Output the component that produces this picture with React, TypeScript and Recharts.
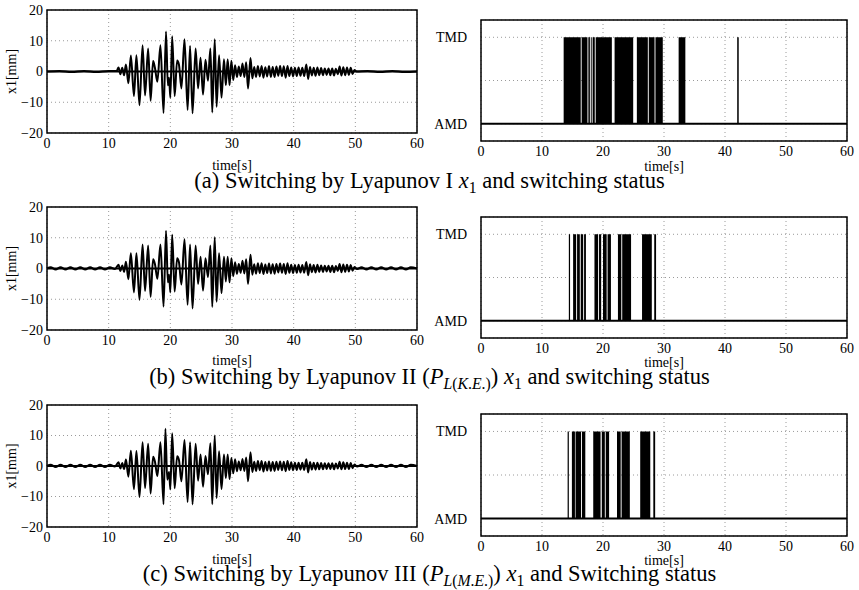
import React from 'react'
import {
  ComposedChart, Line, Area, XAxis, YAxis, CartesianGrid, ReferenceLine, ReferenceArea
} from 'recharts'

const timeTicks = [0, 10, 20, 30, 40, 50, 60]
const x1Ticks = [-20, -10, 0, 10, 20]
const statusTicks = [0, 0.5, 1]
const statusLabels: Record<number, string> = { 0: 'AMD', 0.5: '', 1: 'TMD' }

// x1[mm] response, [time, value] at the peaks and troughs
const x1A: [number, number][] = [
  [0, 0], [2, 0.2], [4, -0.2], [6, 0.2], [8, -0.2], [10, 0.2], [11.3, 0.2], [11.6, 1.3], [11.9, -0.9],
  [12.2, 1.2], [12.5, -1.2], [12.8, 2.3], [13.2, -3.8], [13.6, 5.2], [14.1, -8], [14.5, 5.3], [15.0, -11],
  [15.5, 8.5], [15.9, -7.8], [16.4, 7.5], [16.8, -9.5], [17.2, 3.4], [17.5, 1.2], [17.9, -3.3], [18.4, 8.5],
  [18.9, -13.5], [19.3, 13], [19.6, -4.5], [19.8, -2], [20.0, -8.5], [20.3, 11.5], [20.7, -8], [21.1, 3.6],
  [21.4, 2.2], [21.8, -5.5], [22.3, 10.5], [22.8, -12.5], [23.2, 8.3], [23.6, -13.6], [24.1, 7.5], [24.5, -5.5],
  [24.9, 4.5], [25.3, -7.5], [25.7, 3.8], [26.1, -3], [26.5, 7.5], [26.8, -13.3], [27.2, 10.5], [27.5, -11.5],
  [27.9, 5.3], [28.3, -8.5], [28.7, 4], [29.0, -4.5], [29.3, 4], [29.6, -4.5], [29.9, 3.5], [30.2, -2.8],
  [30.5, 2], [30.8, -1.8], [31.1, 1.6], [31.4, -1.5], [31.7, 2.6], [32.0, -1.8], [32.3, 3], [32.6, -5.5],
  [33.0, 4.4], [33.3, -2.2], [33.6, 1.5], [33.9, -1.8], [34.2, 1.8], [34.5, -1.6], [34.8, 1.8], [35.1, -2],
  [35.4, 1.4], [35.7, -1.6], [36.0, 1.8], [36.3, -1.8], [36.6, 1.5], [36.9, -1.8], [37.2, 1.6], [37.5, -1.4],
  [37.8, 1.8], [38.1, -1.5], [38.4, 1.7], [38.7, -2], [39.0, 1.8], [39.3, -1.5], [39.6, 1.3], [39.9, -1.6],
  [40.2, 1.2], [40.5, -1.5], [40.8, 1.3], [41.1, -1.4], [41.4, 1.2], [41.7, -1.5], [42.05, 2.3], [42.35, -2.4],
  [42.65, 1.5], [42.95, -1.3], [43.25, 1.2], [43.55, -1.4], [43.85, 1.3], [44.15, -1.2], [44.45, 1.1],
  [44.75, -1.2], [45.05, 1], [45.35, -1.1], [45.65, 1], [45.95, -1.2], [46.25, 1], [46.55, -1.3], [46.85, 0.9],
  [47.15, -0.9], [47.45, 1.6], [47.75, -1.3], [48.05, 1.4], [48.35, -1.2], [48.65, 1.3], [48.95, -1.1],
  [49.25, 1.2], [49.55, -0.8], [49.85, 0.5], [50.2, 0], [52, 0.2], [54, -0.2], [56, 0.2], [58, -0.2], [60, 0]
]

const x1B: [number, number][] = [
  [0, 0], [0.6, 0.4], [1.4, -0.3], [2.2, 0.4], [3.0, -0.3], [3.8, 0.4], [4.6, -0.3], [5.4, 0.4], [6.2, -0.3],
  [7.0, 0.4], [7.8, -0.3], [8.6, 0.4], [9.4, -0.3], [10.2, 0.4], [11.0, -0.2], [11.6, 1.2], [11.9, -0.8],
  [12.2, 1], [12.5, -1.1], [12.8, 2.2], [13.2, -3.5], [13.6, 5], [14.1, -7.8], [14.5, 5], [15.0, -10.2],
  [15.5, 7.8], [15.9, -7.3], [16.4, 7.5], [16.8, -9.2], [17.2, 3], [17.5, 1.5], [17.9, -3.3], [18.4, 7.8],
  [18.9, -12.4], [19.3, 12.3], [19.6, -4.5], [19.8, -2], [20.0, -7.8], [20.3, 11], [20.7, -7.5], [21.1, 3.3],
  [21.4, 2], [21.8, -5.2], [22.3, 9.5], [22.8, -11.8], [23.2, 7.8], [23.6, -13], [24.1, 7.5], [24.5, -5],
  [24.9, 3.8], [25.3, -7.2], [25.7, 3.3], [26.1, -2.8], [26.5, 7.5], [26.8, -12.5], [27.2, 10.2], [27.5, -10.8],
  [27.9, 5], [28.3, -8], [28.7, 3.8], [29.0, -4.2], [29.3, 3.8], [29.6, -4.5], [29.9, 3.3], [30.2, -2.5],
  [30.5, 2], [30.8, -1.7], [31.1, 1.5], [31.4, -1.4], [31.7, 2.5], [32.0, -1.6], [32.3, 3], [32.6, -5],
  [33.0, 4.5], [33.3, -2], [33.6, 1.4], [33.9, -1.7], [34.2, 1.7], [34.5, -1.5], [34.8, 1.7], [35.1, -1.8],
  [35.4, 1.3], [35.7, -1.5], [36.0, 1.6], [36.3, -1.6], [36.6, 1.4], [36.9, -1.7], [37.2, 1.5], [37.5, -1.3],
  [37.8, 1.6], [38.1, -1.4], [38.4, 1.5], [38.7, -1.8], [39.0, 1.7], [39.3, -1.4], [39.6, 1.2], [39.9, -1.5],
  [40.2, 1.1], [40.5, -1.4], [40.8, 1.2], [41.1, -1.3], [41.4, 1.1], [41.7, -1.4], [42.05, 2.1], [42.35, -2.2],
  [42.65, 1.4], [42.95, -1.2], [43.25, 1.1], [43.55, -1.3], [43.85, 1.2], [44.15, -1.1], [44.45, 1],
  [44.75, -1.1], [45.05, 0.9], [45.35, -1], [45.65, 0.9], [45.95, -1.1], [46.25, 0.9], [46.55, -1.2],
  [46.85, 0.8], [47.15, -0.8], [47.45, 1.5], [47.75, -1.2], [48.05, 1.3], [48.35, -1.1], [48.65, 1.2],
  [48.95, -1], [49.25, 1.1], [49.55, -0.7], [49.85, 0.5], [50.3, -0.2], [51.0, 0.4], [51.8, -0.3], [52.6, 0.4],
  [53.4, -0.3], [54.2, 0.4], [55.0, -0.3], [55.8, 0.4], [56.6, -0.3], [57.4, 0.4], [58.2, -0.3], [59.0, 0.4],
  [60, 0]
]

const x1C: [number, number][] = [
  [0, 0], [0.6, 0.4], [1.4, -0.3], [2.2, 0.4], [3.0, -0.3], [3.8, 0.4], [4.6, -0.3], [5.4, 0.4], [6.2, -0.3],
  [7.0, 0.4], [7.8, -0.3], [8.6, 0.4], [9.4, -0.3], [10.2, 0.4], [11.0, -0.2], [11.6, 1.2], [11.9, -0.8],
  [12.2, 1], [12.5, -1], [12.8, 2.1], [13.2, -3.5], [13.6, 5], [14.1, -7.6], [14.5, 4.9], [15.0, -10.2],
  [15.5, 7.8], [15.9, -7.2], [16.4, 7.3], [16.8, -9], [17.2, 3], [17.5, 1.5], [17.9, -3.3], [18.4, 7.8],
  [18.9, -12.5], [19.2, 12.2], [19.5, -4.5], [19.8, -2], [20.0, -7.7], [20.3, 10.7], [20.7, -7.3], [21.1, 3.2],
  [21.4, 2], [21.8, -5], [22.3, 8.5], [22.8, -11.8], [23.2, 7.8], [23.6, -12.6], [24.1, 7.3], [24.5, -4.8],
  [24.9, 3.8], [25.3, -6.8], [25.7, 3.3], [26.1, -2.7], [26.5, 7.5], [26.8, -12.5], [27.2, 10], [27.5, -10.5],
  [27.9, 4.8], [28.3, -7.5], [28.7, 3.8], [29.0, -4], [29.3, 3.8], [29.6, -4.3], [29.9, 2.6], [30.2, -2.4],
  [30.5, 2.2], [30.8, -1.7], [31.1, 1.5], [31.4, -1.4], [31.7, 2.3], [32.0, -1.6], [32.3, 2.8], [32.6, -5],
  [33.0, 4.5], [33.3, -2], [33.6, 1.4], [33.9, -1.6], [34.2, 1.6], [34.5, -1.4], [34.8, 1.6], [35.1, -1.8],
  [35.4, 1.3], [35.7, -1.5], [36.0, 1.5], [36.3, -1.6], [36.6, 1.3], [36.9, -1.6], [37.2, 1.4], [37.5, -1.3],
  [37.8, 1.5], [38.1, -1.4], [38.4, 1.4], [38.7, -1.7], [39.0, 1.6], [39.3, -1.3], [39.6, 1.2], [39.9, -1.4],
  [40.2, 1.1], [40.5, -1.3], [40.8, 1.1], [41.1, -1.2], [41.4, 1.1], [41.7, -1.3], [42.05, 2.2], [42.35, -2.1],
  [42.65, 1.3], [42.95, -1.2], [43.25, 1.1], [43.55, -1.2], [43.85, 1.1], [44.15, -1.1], [44.45, 1],
  [44.75, -1.1], [45.05, 0.9], [45.35, -1], [45.65, 0.9], [45.95, -1], [46.25, 0.9], [46.55, -1.1],
  [46.85, 0.8], [47.15, -0.8], [47.45, 1.4], [47.75, -1.1], [48.05, 1.2], [48.35, -1], [48.65, 1.1],
  [48.95, -1], [49.25, 1], [49.55, -0.7], [49.85, 0.5], [50.3, -0.2], [51.0, 0.4], [51.8, -0.3], [52.6, 0.4],
  [53.4, -0.3], [54.2, 0.4], [55.0, -0.3], [55.8, 0.4], [56.6, -0.3], [57.4, 0.4], [58.2, -0.3], [59.0, 0.4],
  [60, 0]
]

// TMD-on intervals [start, end] in seconds; AMD otherwise
const tmdA: [number, number][] = [
  [13.55, 16.35], [16.5, 17.45], [17.6, 17.85], [18.0, 18.15], [18.3, 18.65], [18.8, 21.45],
  [21.9, 24.95], [25.55, 27.35], [27.5, 28.45], [28.6, 29.8], [32.4, 33.5], [42.0, 42.25]
]
const tmdB: [number, number][] = [
  [14.4, 14.6], [15.1, 15.6], [15.75, 16.2], [16.35, 16.75], [16.9, 17.2], [18.6, 19.2], [19.35, 19.7],
  [20.0, 20.6], [20.75, 21.3], [22.45, 23.0], [23.15, 24.6], [26.4, 28.0], [28.4, 28.7]
]
const tmdC: [number, number][] = [
  [14.2, 14.4], [14.9, 15.4], [15.5, 16.4], [16.55, 17.1], [18.4, 19.6], [19.8, 20.3], [20.45, 21.0],
  [22.3, 22.9], [23.05, 24.4], [26.1, 27.75], [28.25, 28.55]
]

const FONT = '"Liberation Serif", "Times New Roman", serif'
const tickStyle = { fontSize: 14, fill: '#000', fontFamily: FONT }
const fmtMinus = (v: number) => (v < 0 ? '\u2212' + Math.abs(v) : String(v))

function toRows(pts: [number, number][]) {
  return pts.map(([t, v]) => ({ t, v }))
}

function toSteps(intervals: [number, number][]) {
  const rows = [{ t: 0, s: 0 }]
  intervals.forEach(([a, b]) => {
    rows.push({ t: a, s: 1 }, { t: b, s: 0 })
  })
  rows.push({ t: 60, s: 0 })
  return rows
}

const TOP_M = 10
const BOT_M = 5

function SignalPanel({ data, plotTop, plotH, xh }: { data: [number, number][]; plotTop: number; plotH: number; xh: number }) {
  return (
    <div style={{ position: 'absolute', left: 0, top: plotTop - TOP_M }}>
      <ComposedChart width={430} height={TOP_M + plotH + xh + BOT_M} data={toRows(data)}
        margin={{ top: TOP_M, right: 13, left: 0, bottom: BOT_M }}>
        <CartesianGrid stroke="#9a9a9a" strokeDasharray="1 3" />
        <XAxis dataKey="t" type="number" domain={[0, 60]} ticks={timeTicks} height={xh}
          tickLine={false} axisLine={false} tick={tickStyle} tickSize={3} tickMargin={2}
          label={{ value: 'time[s]', position: 'insideBottom', offset: 0, fill: '#000', fontSize: 14, fontFamily: FONT }} />
        <YAxis type="number" domain={[-20, 20]} ticks={x1Ticks} width={47} tickFormatter={fmtMinus}
          tickLine={false} axisLine={false} tick={tickStyle} tickSize={3} tickMargin={1}
          label={{ value: 'x1[mm]', angle: -90, position: 'insideLeft', offset: 11, fill: '#000', fontSize: 14, fontFamily: FONT, style: { textAnchor: 'middle' } }} />
        <ReferenceLine y={0} stroke="#000" strokeWidth={2} />
        <Line dataKey="v" type="monotone" stroke="#000" strokeWidth={2} dot={false} isAnimationActive={false} />
        <ReferenceArea x1={0} x2={60} y1={-20} y2={20} fill="none" stroke="#000" strokeWidth={1.5} />
      </ComposedChart>
    </div>
  )
}

function StatusPanel({ intervals, plotTop, plotH, xh }: { intervals: [number, number][]; plotTop: number; plotH: number; xh: number }) {
  return (
    <div style={{ position: 'absolute', left: 430, top: plotTop - TOP_M }}>
      <ComposedChart width={429} height={TOP_M + plotH + xh + BOT_M} data={toSteps(intervals)}
        margin={{ top: TOP_M, right: 12, left: 0, bottom: BOT_M }}>
        <CartesianGrid stroke="#9a9a9a" strokeDasharray="1 3" />
        <XAxis dataKey="t" type="number" domain={[0, 60]} ticks={timeTicks} height={xh}
          tickLine={false} axisLine={false} tick={tickStyle} tickSize={3} tickMargin={2}
          label={{ value: 'time[s]', position: 'insideBottom', offset: 0, fill: '#000', fontSize: 14, fontFamily: FONT }} />
        <YAxis type="number" domain={[-0.2, 1.2]} ticks={statusTicks} width={51}
          tickFormatter={(v: number) => statusLabels[v] ?? ''}
          tickLine={false} axisLine={false} tick={tickStyle} tickSize={3} tickMargin={11} />
        <Area dataKey="s" type="stepAfter" baseValue={0} fill="#000" fillOpacity={1} stroke="none"
          isAnimationActive={false} />
        <ReferenceLine y={0} stroke="#000" strokeWidth={2} />
        <ReferenceArea x1={0} x2={60} y1={-0.2} y2={1.2} fill="none" stroke="#000" strokeWidth={1.5} />
      </ComposedChart>
    </div>
  )
}

function Caption({ y, children }: { y: number; children: React.ReactNode }) {
  return (
    <div style={{
      position: 'absolute', left: 0, top: y - 13, width: 859, textAlign: 'center',
      fontFamily: FONT, fontSize: 22.5, lineHeight: '26px', color: '#000'
    }}>
      {children}
    </div>
  )
}

const sub = { fontSize: '0.7em', verticalAlign: '-0.3em', lineHeight: 0 }

export default function App() {
  return (
    <div style={{ position: 'absolute', left: 0, top: 0, width: 859, height: 590, background: '#fff', overflow: 'hidden' }}>
      <SignalPanel data={x1A} plotTop={10} plotH={123} xh={37} />
      <StatusPanel intervals={tmdA} plotTop={20} plotH={121} xh={30} />
      <SignalPanel data={x1B} plotTop={207} plotH={123} xh={35} />
      <StatusPanel intervals={tmdB} plotTop={217} plotH={121} xh={29} />
      <SignalPanel data={x1C} plotTop={405} plotH={122} xh={37} />
      <StatusPanel intervals={tmdC} plotTop={414} plotH={122} xh={29} />
      <Caption y={181}>(a) Switching by Lyapunov I <i>x</i><span style={sub}>1</span> and switching status</Caption>
      <Caption y={377}>(b) Switching by Lyapunov II (<i>P</i><span style={sub}><i>L</i>(<i>K</i>.<i>E</i>.)</span>) <i>x</i><span style={sub}>1</span> and switching status</Caption>
      <Caption y={574}>(c) Switching by Lyapunov III (<i>P</i><span style={sub}><i>L</i>(<i>M</i>.<i>E</i>.)</span>) <i>x</i><span style={sub}>1</span> and Switching status</Caption>
    </div>
  )
}
